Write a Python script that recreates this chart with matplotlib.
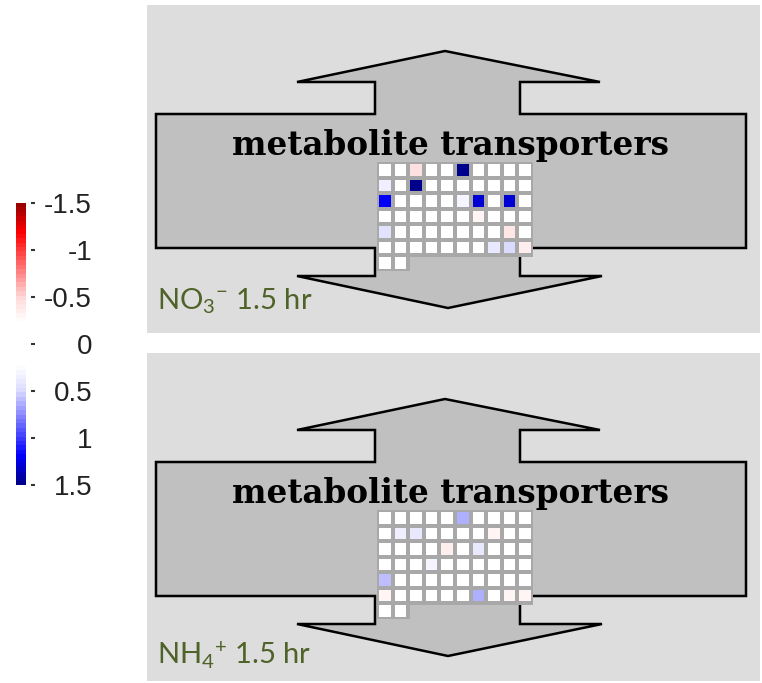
import numpy as np
import matplotlib
matplotlib.use("Agg")
import matplotlib.pyplot as plt
from matplotlib.colors import LinearSegmentedColormap, Normalize
from matplotlib.patches import Polygon, Rectangle

plt.rcParams['mathtext.fontset'] = 'custom'
plt.rcParams['mathtext.rm'] = 'Lato'
plt.rcParams['mathtext.it'] = 'Lato:italic'

# log ratio per transporter bin (7 rows x 10 cols, last row has 2 bins)
nan = np.nan
no3_vals = [
    [0.1, 0.0, -0.45, 0.0, 0.05, 1.5, 0.0, 0.0, 0.05, 0.0],
    [0.35, 0.0, 1.5, 0.0, 0.0, 0.0, 0.0, 0.1, 0.0, 0.0],
    [1.2, 0.0, 0.0, 0.0, 0.0, 0.3, 1.3, 0.0, 1.3, 0.0],
    [0.2, 0.0, 0.0, 0.0, 0.0, 0.0, -0.3, 0.0, 0.0, 0.0],
    [0.45, 0.0, 0.0, 0.0, 0.0, 0.0, 0.0, 0.0, -0.4, 0.0],
    [0.1, 0.0, 0.0, 0.0, 0.0, 0.0, 0.0, 0.4, 0.5, -0.35],
    [0.0, 0.0, nan, nan, nan, nan, nan, nan, nan, nan],
]
nh4_vals = [
    [0.0, 0.0, 0.1, 0.0, 0.0, 0.65, 0.0, 0.0, 0.0, 0.0],
    [0.0, 0.35, 0.4, 0.0, 0.0, 0.0, 0.0, -0.3, 0.0, 0.0],
    [0.1, 0.0, 0.0, 0.0, -0.35, 0.0, 0.4, 0.0, 0.0, 0.0],
    [0.0, 0.0, 0.0, 0.3, 0.0, 0.0, 0.0, 0.0, 0.0, 0.0],
    [0.6, 0.0, 0.0, 0.0, 0.0, 0.0, 0.0, 0.0, 0.0, 0.0],
    [-0.3, 0.0, 0.0, 0.0, 0.0, 0.0, 0.65, 0.0, -0.3, -0.3],
    [0.0, 0.0, nan, nan, nan, nan, nan, nan, nan, nan],
]
panel_labels = [r'NO$_3$$^{-}$ 1.5 hr', r'NH$_4$$^{+}$ 1.5 hr']
bin_title = 'metabolite transporters'
cbar_ticks = [-1.5, -1, -0.5, 0, 0.5, 1, 1.5]
cbar_ticklabels = ['-1.5', '-1', '-0.5', '0', '0.5', '1', '1.5']

W, H = 762, 683
fig = plt.figure(figsize=(W / 100, H / 100), dpi=100)
fig.patch.set_facecolor('white')

# overlay axes in pixel units for the mapman-style drawing
bg = fig.add_axes([0, 0, 1, 1])
bg.set_xlim(0, W)
bg.set_ylim(H, 0)
bg.axis('off')

cmap = LinearSegmentedColormap.from_list('mapman', [
    (0.0, (0.6, 0.0, 0.0)),
    (0.1, (1.0, 0.0, 0.0)),
    (0.333, (1.0, 0.85, 0.85)),
    (0.42, (1.0, 1.0, 1.0)),
    (0.58, (1.0, 1.0, 1.0)),
    (0.667, (0.86, 0.86, 1.0)),
    (0.9, (0.0, 0.0, 1.0)),
    (1.0, (0.0, 0.0, 0.55)),
], N=64)
norm = Normalize(vmin=-1.5, vmax=1.5)


def px_axes(x0, y0, x1, y1):
    return fig.add_axes([x0 / W, 1 - y1 / H, (x1 - x0) / W, (y1 - y0) / H])


def draw_panel(dy, vals, label, label_y):
    bg.add_patch(Rectangle((147, 5 + dy), 613, 328, facecolor='#dddddd',
                           edgecolor='none', zorder=0))
    pts = [(375, 82), (297, 82), (445, 51), (600, 82), (520, 82), (520, 114),
           (746, 114), (746, 248), (520, 248), (520, 276), (602, 276),
           (448, 308), (297, 276), (375, 276), (375, 248), (156, 248),
           (156, 114), (375, 114)]
    pts = [(x, y + dy) for x, y in pts]
    bg.add_patch(Polygon(pts, closed=True, facecolor='#c0c0c0',
                         edgecolor='black', linewidth=1.8, zorder=1))
    bg.text(451, 155 + dy, bin_title, fontsize=23.5, fontweight='bold',
            family='DejaVu Serif', ha='center', va='baseline', zorder=2)
    bg.text(157, label_y, label, fontsize=21, color='#4f6228',
            family='Lato', ha='left', va='baseline', zorder=2)

    ax = px_axes(377, 162 + dy, 533, 271 + dy)
    data = np.array(vals)
    full = data[:-1]
    last = data[-1]
    n_last = np.count_nonzero(~np.isnan(last))
    nr, nc = full.shape
    ax.pcolormesh(np.arange(nc + 1), np.arange(nr + 1), full, cmap=cmap,
                  norm=norm, edgecolors='#a8a8a8', linewidth=1.5)
    ax.pcolormesh(np.arange(n_last + 1), [nr, nr + 1],
                  last[:n_last].reshape(1, -1), cmap=cmap, norm=norm,
                  edgecolors='#a8a8a8', linewidth=1.5)
    ax.set_xlim(0, nc)
    ax.set_ylim(nr + 1, 0)
    ax.axis('off')


draw_panel(0, no3_vals, panel_labels[0], 309)
draw_panel(348, nh4_vals, panel_labels[1], 664)

# colour scale
cax = px_axes(16, 203, 26, 485)
sm = plt.cm.ScalarMappable(norm=norm, cmap=cmap)
cb = fig.colorbar(sm, cax=cax)
cb.outline.set_visible(False)
cax.invert_yaxis()
cax.set_yticks([])
sec = cax.secondary_yaxis(1.5)
sec.set_yticks(cbar_ticks, labels=cbar_ticklabels)
for sp in sec.spines.values():
    sp.set_visible(False)
sec.tick_params(axis='y', direction='out', length=3, width=1.5,
                color='#333333', pad=41, labelsize=20, labelcolor='#222222')
for lbl in sec.get_yticklabels():
    lbl.set_ha('right')
    lbl.set_family('Liberation Sans')
    lbl.set_va('center_baseline')

fig.savefig('out.png', dpi=100, facecolor='white')
